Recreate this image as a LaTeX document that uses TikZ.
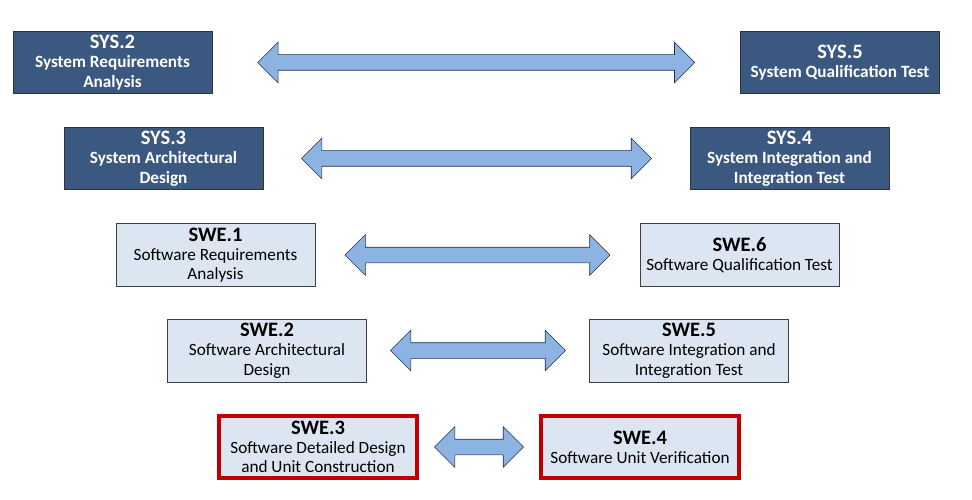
\documentclass[tikz,border=0pt]{standalone}
\usepackage{fontspec}
\setmainfont{Carlito}
\usetikzlibrary{shapes.arrows}
\definecolor{sysfill}{RGB}{59,89,128}
\definecolor{swefill}{RGB}{220,230,242}
\definecolor{unitred}{RGB}{192,0,0}
\definecolor{arrowfill}{RGB}{141,179,226}
\definecolor{arrowline}{RGB}{31,48,74}
\newcommand{\ttl}[1]{{\fontsize{20.5}{20.5}\selectfont\bfseries #1}}
\begin{document}
\begin{tikzpicture}[x=1pt,y=-1pt,
    sysbox/.style={draw=black!80,fill=sysfill,text=white,line width=0.8pt,
      minimum width=199pt,minimum height=62pt,align=center,inner sep=2pt,
      font=\fontsize{17.2}{19.3}\selectfont\bfseries},
    swebox/.style={draw=black!75,fill=swefill,line width=0.8pt,
      minimum width=199pt,minimum height=63pt,align=center,inner sep=2pt,
      font=\fontsize{17.2}{19.3}\selectfont},
    unitbox/.style={swebox,draw=unitred,line width=3.5pt,
      minimum width=198pt,minimum height=62pt},
    dblarrow/.style={double arrow,draw=arrowline,fill=arrowfill,line width=0.6pt,
      double arrow head extend=12.5pt,inner xsep=0pt,inner ysep=7.5pt}]
  \useasboundingbox (0,0) rectangle (972,500);

  % system level
  \node[sysbox] (sys2) at (112.5,62.5) {\ttl{SYS.2}\\System Requirements\\Analysis};
  \node[sysbox] (sys5) at (840,62.5) {\ttl{SYS.5}\\System Qualification Test};
  \node[sysbox] (sys3) at (163.5,158.5) {\ttl{SYS.3}\\System Architectural\\Design};
  \node[sysbox] (sys4) at (789.5,158.5) {\ttl{SYS.4}\\System Integration and\\Integration Test};

  % software level
  \node[swebox] (swe1) at (215.5,255) {\ttl{SWE.1}\\Software Requirements\\Analysis};
  \node[swebox] (swe6) at (739.5,255) {\ttl{SWE.6}\\Software Qualification Test};
  \node[swebox] (swe2) at (267,350.5) {\ttl{SWE.2}\\Software Architectural\\Design};
  \node[swebox] (swe5) at (689,350.5) {\ttl{SWE.5}\\Software Integration and\\Integration Test};
  \node[unitbox] (swe3) at (318,447) {\ttl{SWE.3}\\Software Detailed Design\\and Unit Construction};
  \node[unitbox] (swe4) at (640,447) {\ttl{SWE.4}\\Software Unit Verification};

  % arrows
  \path (sys2.east) -- (sys5.west) node[midway,dblarrow,minimum height=437pt] (a1) {};
  \path (sys3.east) -- (sys4.west) node[midway,dblarrow,minimum height=350pt] (a2) {};
  \path (swe1.east) -- (swe6.west) node[midway,dblarrow,minimum height=265pt] (a3) {};
  \path (swe2.east) -- (swe5.west) node[midway,dblarrow,minimum height=175pt] (a4) {};
  \path (swe3.east) -- (swe4.west) node[midway,dblarrow,minimum height=89pt] (a5) {};
\end{tikzpicture}
\end{document}
